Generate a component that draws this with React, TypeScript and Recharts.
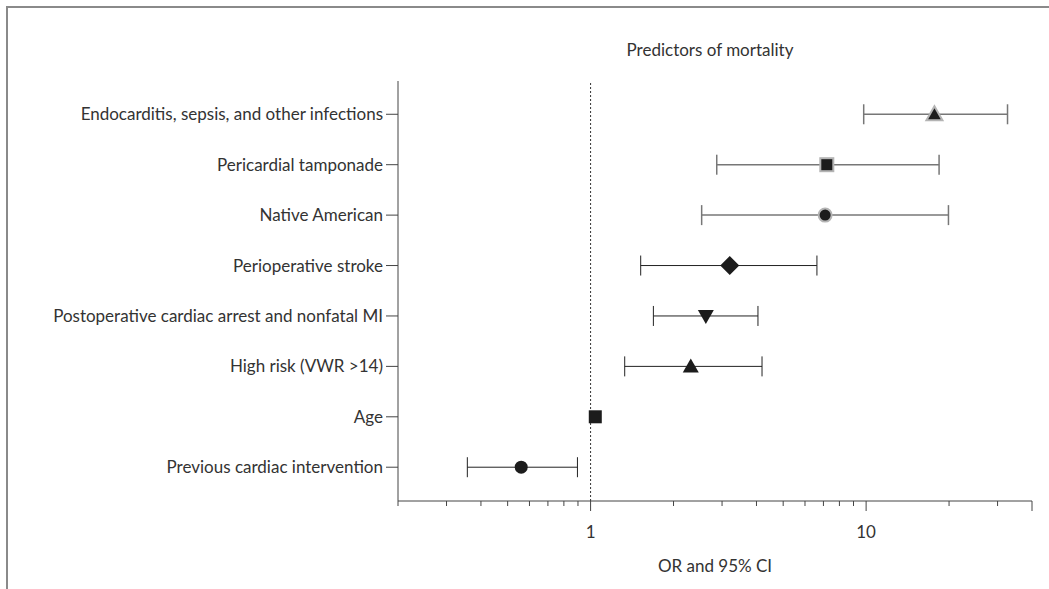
import { ScatterChart, Scatter, XAxis, YAxis, ErrorBar, ReferenceLine } from "recharts";

// rows listed top to bottom, as in the figure
const predictors = [
  "Endocarditis, sepsis, and other infections",
  "Pericardial tamponade",
  "Native American",
  "Perioperative stroke",
  "Postoperative cardiac arrest and nonfatal MI",
  "High risk (VWR >14)",
  "Age",
  "Previous cardiac intervention",
];
const oddsRatio = [17.7, 7.2, 7.1, 3.2, 2.62, 2.31, 1.04, 0.56];
const ciLow = [9.8, 2.87, 2.53, 1.52, 1.69, 1.33, 1.02, 0.357];
const ciHigh = [32.6, 18.4, 19.9, 6.63, 4.05, 4.19, 1.06, 0.896];

const xTicks = [0.2, 0.3, 0.4, 0.5, 0.6, 0.7, 0.8, 0.9, 1, 2, 3, 4, 5, 6, 7, 8, 9, 10, 20, 30, 40];
const labeledTicks = [1, 10];

const markerKinds = ["triangle", "square", "circle", "diamond", "triangleDown", "triangle", "square", "circle"];
const haloRows = 3; // first rows drawn with grey outline + grey CI

const FONT = "Lato, 'Noto Sans', sans-serif";
const TEXT = "#333";
const FS = 17;

const rows = predictors.map((name, i) => ({
  name,
  y: predictors.length - i,
  or: oddsRatio[i],
  err: [oddsRatio[i] - ciLow[i], ciHigh[i] - oddsRatio[i]],
}));

function Marker(props: any) {
  const { cx, cy, kind, halo } = props;
  if (typeof cx !== "number" || typeof cy !== "number") return null;
  const fill = "#1c1c1c";
  const stroke = halo ? "#b4b4b4" : "none";
  const sw = halo ? 2 : 0;
  switch (kind) {
    case "circle":
      return <circle cx={cx} cy={cy} r={6.5} fill={fill} stroke={stroke} strokeWidth={sw} />;
    case "square":
      return <rect x={cx - 6.5} y={cy - 6.5} width={13} height={13} fill={fill} stroke={stroke} strokeWidth={sw} />;
    case "diamond":
      return (
        <polygon
          points={`${cx},${cy - 9.5} ${cx + 9.5},${cy} ${cx},${cy + 9.5} ${cx - 9.5},${cy}`}
          fill={fill}
        />
      );
    case "triangleDown":
      return (
        <polygon
          points={`${cx - 8},${cy - 6} ${cx + 8},${cy - 6} ${cx},${cy + 8}`}
          fill={fill}
        />
      );
    default:
      return (
        <polygon
          points={`${cx},${cy - 8} ${cx + 8},${cy + 6} ${cx - 8},${cy + 6}`}
          fill={fill}
          stroke={stroke}
          strokeWidth={sw}
        />
      );
  }
}

function XTick(props: any) {
  const { x, y, payload } = props;
  const v = payload.value;
  const major = labeledTicks.includes(v) || v === xTicks[xTicks.length - 1];
  return (
    <g>
      <line x1={x} y1={y} x2={x} y2={y + (major ? 10 : 5)} stroke="#444" strokeWidth={1} />
      {labeledTicks.includes(v) && (
        <text x={x} y={y + 37} textAnchor="middle" fontSize={FS} fill={TEXT} fontFamily={FONT}>
          {v}
        </text>
      )}
    </g>
  );
}

export default function App() {
  return (
    <div style={{ position: "absolute", left: 0, top: 0, width: 1049, height: 589, background: "#fff", fontFamily: FONT }}>
      {/* frame, only top and left edges visible */}
      <div
        style={{
          position: "absolute",
          left: 6,
          top: 6,
          right: 0,
          bottom: 0,
          borderTop: "2px solid #8a8a8a",
          borderLeft: "2px solid #8a8a8a",
        }}
      />
      <div
        style={{
          position: "absolute",
          left: 393,
          width: 634,
          top: 39,
          textAlign: "center",
          fontSize: FS,
          color: TEXT,
        }}
      >
        Predictors of mortality
      </div>
      <div style={{ position: "absolute", left: 0, top: 0 }}>
        <ScatterChart width={1049} height={589} margin={{ top: 81, right: 17, bottom: 8, left: 8 }}>
          <XAxis
            type="number"
            dataKey="or"
            scale="log"
            domain={[0.2, 40]}
            allowDataOverflow
            ticks={xTicks}
            interval={0}
            tickSize={0}
            tickMargin={0}
            tick={<XTick />}
            height={80}
            stroke="#444"
            label={{
              value: "OR and 95% CI",
              position: "insideBottom",
              offset: 9,
              fill: TEXT,
              fontSize: FS,
              fontFamily: FONT,
            }}
          />
          <YAxis
            type="number"
            dataKey="y"
            domain={[0.33, 8.66]}
            allowDataOverflow
            ticks={[1, 2, 3, 4, 5, 6, 7, 8]}
            interval={0}
            width={390}
            tickSize={12}
            tickMargin={3}
            stroke="#444"
            tick={{ fill: TEXT, fontSize: FS, fontFamily: FONT }}
            tickFormatter={(v: number) => predictors[predictors.length - v] ?? ""}
          />
          <ReferenceLine x={1} stroke="#333" strokeDasharray="2 2" strokeWidth={1} />
          {rows.map((row, i) => (
            <Scatter
              key={row.name}
              data={[row]}
              isAnimationActive={false}
              shape={(p: any) => <Marker {...p} kind={markerKinds[i]} halo={i < haloRows} />}
            >
              {i !== 6 && (
                <ErrorBar
                  dataKey="err"
                  direction="x"
                  width={10}
                  stroke={i < haloRows ? "#777" : "#222"}
                  strokeWidth={i < haloRows ? 1.5 : 1}
                  isAnimationActive={false}
                />
              )}
            </Scatter>
          ))}
        </ScatterChart>
      </div>
    </div>
  );
}
